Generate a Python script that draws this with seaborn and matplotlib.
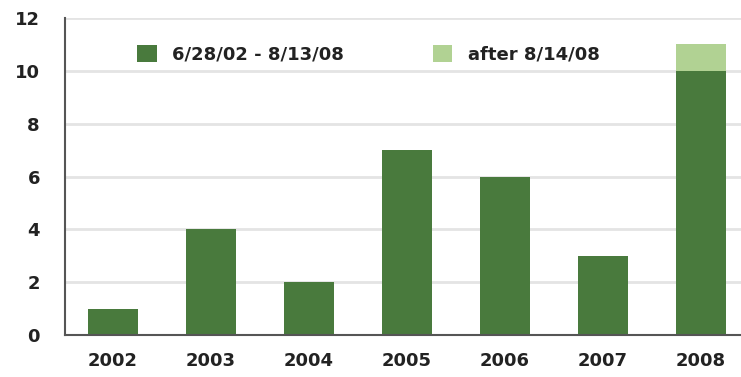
import matplotlib
matplotlib.use("Agg")
import matplotlib.pyplot as plt
from matplotlib.patches import Patch
import seaborn as sns
import pandas as pd

years = ["2002", "2003", "2004", "2005", "2006", "2007", "2008"]
before = [1, 4, 2, 7, 6, 3, 10]
after = [0, 0, 0, 0, 0, 0, 1]
series_labels = ["6/28/02 - 8/13/08", "after 8/14/08"]
y_ticks = [0, 2, 4, 6, 8, 10, 12]

dark_green = "#497a3d"
light_green = "#b1d293"

df = pd.DataFrame({"year": years, "before": before, "after": after})
df["total"] = df["before"] + df["after"]

sns.set_theme(style="white")
plt.rcParams["font.family"] = ["DejaVu Sans"]
plt.rcParams["font.weight"] = "bold"

W, H = 741, 377
fig = plt.figure(figsize=(W / 100, H / 100), dpi=100)
ax = fig.add_axes([65 / W, 1 - 335 / H, (W - 65) / W, (335 - 18) / H])

# stacked bars: full total in light green, earlier period on top in dark green
sns.barplot(data=df, x="year", y="total", color=light_green, width=0.51,
            saturation=1, ax=ax, zorder=3, linewidth=0)
sns.barplot(data=df, x="year", y="before", color=dark_green, width=0.51,
            saturation=1, ax=ax, zorder=4, linewidth=0)

ax.set_ylim(0, 12)
ax.set_xlim(-0.49, 6.41)
ax.set_yticks(y_ticks)
ax.set_yticklabels([str(v) for v in y_ticks])
ax.set_xlabel("")
ax.set_ylabel("")

ax.yaxis.grid(True, color="#e4e4e4", linewidth=2, zorder=0)
ax.set_axisbelow(True)
for side in ("top", "right"):
    ax.spines[side].set_visible(False)
for side in ("left", "bottom"):
    ax.spines[side].set_color("#555555")
    ax.spines[side].set_linewidth(1.5)
    ax.spines[side].set_zorder(5)

ax.tick_params(axis="both", length=0, labelsize=13, colors="#222222")
ax.tick_params(axis="x", pad=12)
ax.tick_params(axis="y", pad=18)
for lab in ax.get_xticklabels() + ax.get_yticklabels():
    lab.set_fontweight("bold")

handles = [Patch(facecolor=dark_green, edgecolor="none"),
           Patch(facecolor=light_green, edgecolor="none")]
leg = ax.legend(handles, series_labels, ncol=2, frameon=False,
                loc="upper left", bbox_to_anchor=(137 / W, 1 - 45 / H),
                bbox_transform=fig.transFigure, borderpad=0, borderaxespad=0,
                handlelength=1.1, handleheight=1.1, handletextpad=0.85,
                columnspacing=4.9, prop={"size": 13, "weight": "bold"})
for t in leg.get_texts():
    t.set_color("#222222")

fig.savefig("out.png", dpi=100)
